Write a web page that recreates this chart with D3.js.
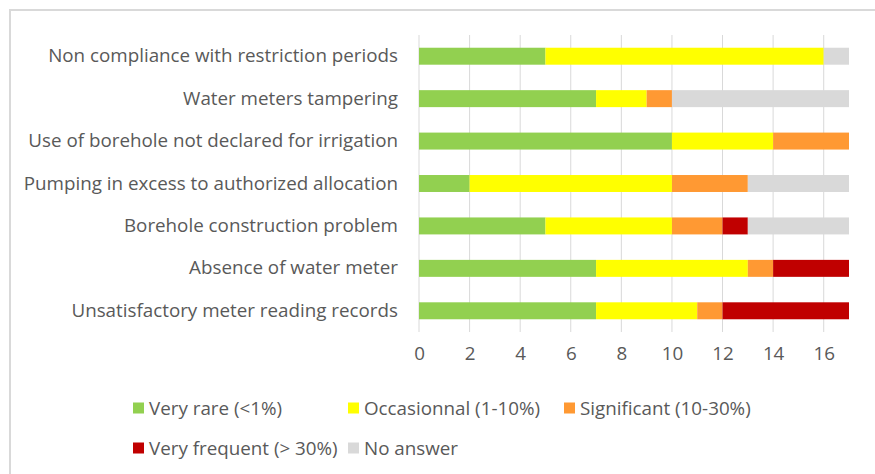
<!DOCTYPE html>
<html>
  <head>
    <script src="https://d3js.org/d3.v7.min.js"></script>
    <style>
      body { margin: 0; background: #fff; }
      text { font-family: "Open Sans", sans-serif; fill: #595959; }
    </style>
  </head>
  <body>
  <div id='chart'></div>

    <script type="text/javascript">

var w = 875,
    h = 474;

// data
var categories = [
  "Non compliance with restriction periods",
  "Water meters tampering",
  "Use of borehole not declared for irrigation",
  "Pumping in excess to authorized allocation",
  "Borehole construction problem",
  "Absence of water meter",
  "Unsatisfactory meter reading records"
];
var seriesNames = ["Very rare (<1%)", "Occasionnal (1-10%)", "Significant (10-30%)", "Very frequent (> 30%)", "No answer"];
var veryRare     = [5, 7, 10, 2, 5, 7, 7];
var occasionnal  = [11, 2, 4, 8, 5, 6, 4];
var significant  = [0, 1, 3, 3, 2, 1, 1];
var veryFrequent = [0, 0, 0, 0, 1, 3, 5];
var noAnswer     = [1, 7, 0, 4, 4, 0, 0];
var xTicks = [0, 2, 4, 6, 8, 10, 12, 14, 16];

var colors = ["#92d050", "#ffff00", "#ff9933", "#c00000", "#d9d9d9"];
var fontSize = "18.8px";

var rows = categories.map(function(c, i) {
  return { cat: c, s0: veryRare[i], s1: occasionnal[i], s2: significant[i], s3: veryFrequent[i], s4: noAnswer[i] };
});
var keys = ["s0", "s1", "s2", "s3", "s4"];
var stacked = d3.stack().keys(keys)(rows);

var svg = d3.select("#chart").append("svg")
    .attr("width", w)
    .attr("height", h);

// chart frame
svg.append("rect")
    .attr("x", 10).attr("y", 10)
    .attr("width", w + 20).attr("height", h + 20)
    .attr("fill", "none")
    .attr("stroke", "#d9d9d9")
    .attr("stroke-width", 2);

var x = d3.scaleLinear().domain([0, 17]).range([419, 849]);
var y = d3.scaleBand().domain(categories).range([35, 332]).paddingInner(0.6).paddingOuter(0.3);

// gridlines
svg.append("g").selectAll("line")
    .data(xTicks)
  .enter().append("line")
    .attr("x1", function(d) { return x(d); })
    .attr("x2", function(d) { return x(d); })
    .attr("y1", 35).attr("y2", 332)
    .attr("stroke", "#d9d9d9")
    .attr("stroke-width", 1);

// bars
svg.append("g").selectAll("g")
    .data(stacked)
  .enter().append("g")
    .attr("fill", function(d, i) { return colors[i]; })
  .selectAll("rect")
    .data(function(d) { return d; })
  .enter().append("rect")
    .attr("x", function(d) { return x(d[0]); })
    .attr("y", function(d) { return y(d.data.cat); })
    .attr("width", function(d) { return x(d[1]) - x(d[0]); })
    .attr("height", y.bandwidth());

// category labels
var yAxis = svg.append("g")
    .attr("transform", "translate(398,0)")
    .call(d3.axisLeft(y).tickSize(0).tickPadding(0));
yAxis.select(".domain").remove();
yAxis.selectAll("text")
    .attr("font-size", fontSize)
    .style("font-family", "'Open Sans', sans-serif")
    .attr("fill", "#595959");

// x tick labels
var xAxis = svg.append("g")
    .attr("transform", "translate(0,347)")
    .call(d3.axisBottom(x).tickValues(xTicks).tickSize(0).tickPadding(0));
xAxis.select(".domain").remove();
xAxis.selectAll("text")
    .attr("font-size", fontSize)
    .style("font-family", "'Open Sans', sans-serif")
    .attr("fill", "#595959");

// legend, 3 columns x 2 rows
var legCols = [133, 348, 564], legRows = [408, 448];
var legend = svg.append("g").selectAll("g")
    .data(seriesNames)
  .enter().append("g")
    .attr("transform", function(d, i) { return "translate(" + legCols[i % 3] + "," + legRows[Math.floor(i / 3)] + ")"; });
legend.append("rect")
    .attr("x", 0).attr("y", -5.5)
    .attr("width", 11).attr("height", 11)
    .attr("fill", function(d, i) { return colors[i]; });
legend.append("text")
    .attr("x", 16)
    .attr("dy", "0.35em")
    .attr("font-size", fontSize)
    .text(function(d) { return d; });

    </script>
  </body>
</html>
